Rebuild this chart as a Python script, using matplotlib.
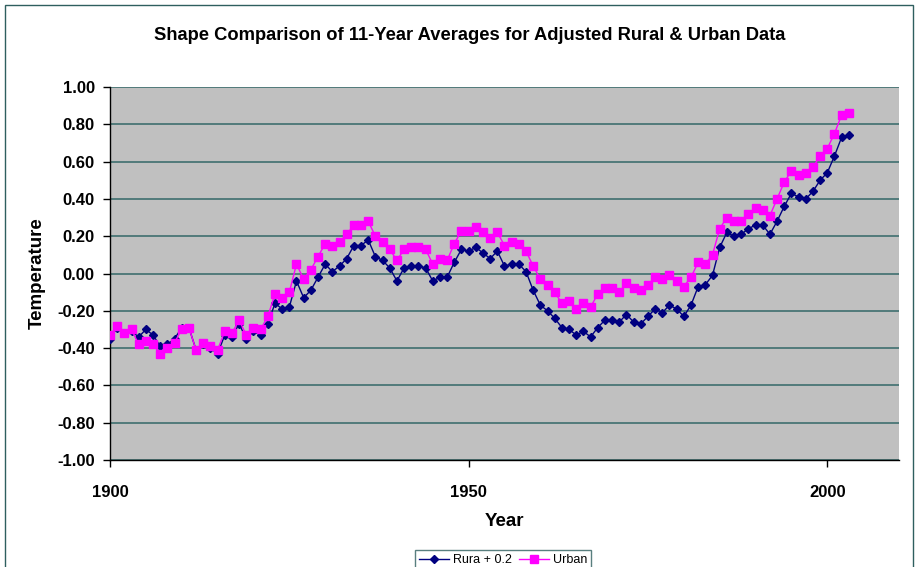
import numpy as np
import matplotlib
matplotlib.use("Agg")
import matplotlib.pyplot as plt
from matplotlib.patches import Rectangle

plt.rcParams['font.family'] = ['Liberation Sans', 'DejaVu Sans']

# 11-year averages, 1900-2003
years = list(range(1900, 2004))

rural_plus = [
    -0.35, -0.29, -0.32, -0.31, -0.34, -0.30, -0.33, -0.39, -0.38, -0.35,
    -0.29, -0.29, -0.41, -0.38, -0.40, -0.43, -0.33, -0.34, -0.27, -0.35,
    -0.31, -0.33, -0.27, -0.16, -0.19, -0.18, -0.04, -0.13, -0.09, -0.02,
    0.05, 0.01, 0.04, 0.08, 0.15, 0.15, 0.18, 0.09, 0.07, 0.03,
    -0.04, 0.03, 0.04, 0.04, 0.03, -0.04, -0.02, -0.02, 0.06, 0.13,
    0.12, 0.14, 0.11, 0.08, 0.12, 0.04, 0.05, 0.05, 0.01, -0.09,
    -0.17, -0.20, -0.24, -0.29, -0.30, -0.33, -0.31, -0.34, -0.29, -0.25,
    -0.25, -0.26, -0.22, -0.26, -0.27, -0.23, -0.19, -0.21, -0.17, -0.19,
    -0.23, -0.17, -0.07, -0.06, -0.01, 0.14, 0.22, 0.20, 0.21, 0.24,
    0.26, 0.26, 0.21, 0.28, 0.36, 0.43, 0.41, 0.40, 0.44, 0.50,
    0.54, 0.63, 0.73, 0.74,
]

urban = [
    -0.33, -0.28, -0.32, -0.30, -0.38, -0.36, -0.38, -0.43, -0.40, -0.37,
    -0.30, -0.29, -0.41, -0.37, -0.39, -0.41, -0.31, -0.32, -0.25, -0.33,
    -0.29, -0.30, -0.23, -0.11, -0.13, -0.10, 0.05, -0.03, 0.02, 0.09,
    0.16, 0.15, 0.17, 0.21, 0.26, 0.26, 0.28, 0.20, 0.17, 0.13,
    0.07, 0.13, 0.14, 0.14, 0.13, 0.05, 0.08, 0.07, 0.16, 0.23,
    0.23, 0.25, 0.22, 0.19, 0.22, 0.15, 0.17, 0.16, 0.12, 0.04,
    -0.03, -0.06, -0.10, -0.16, -0.15, -0.19, -0.16, -0.18, -0.11, -0.08,
    -0.08, -0.10, -0.05, -0.08, -0.09, -0.06, -0.02, -0.03, -0.01, -0.04,
    -0.07, -0.02, 0.06, 0.05, 0.10, 0.24, 0.30, 0.28, 0.28, 0.32,
    0.35, 0.34, 0.31, 0.40, 0.49, 0.55, 0.53, 0.54, 0.57, 0.63,
    0.67, 0.75, 0.85, 0.86,
]

x_ticks = [1900, 1950, 2000]
y_ticks = np.round(np.arange(-1.0, 1.01, 0.2), 2)

fig = plt.figure(figsize=(9.18, 5.67), dpi=100)
fig.patch.set_facecolor('white')

# chart area border
fig.patches.append(Rectangle((5 / 918, -0.05), 908 / 918, 1 - 5 / 567 + 0.05,
                             transform=fig.transFigure, fill=False,
                             edgecolor='#2f5f5f', linewidth=1.0))

ax = fig.add_axes([110 / 918, 1 - 460 / 567, 789 / 918, 373 / 567])
ax.set_facecolor('#C0C0C0')

ax.plot(years, rural_plus, color='#000080', marker='D', markersize=4.4,
        linewidth=1.0, label='Rura + 0.2', zorder=3)
ax.plot(years, urban, color='#FF00FF', marker='s', markersize=5.2,
        linewidth=1.0, label='Urban', zorder=3)

ax.set_xlim(1900, 2010)
ax.set_ylim(-1.0, 1.0)
ax.set_xticks(x_ticks)
ax.set_yticks(y_ticks)
ax.set_yticklabels([f'{v:.2f}' if abs(v) > 1e-9 else '0.00' for v in y_ticks])
for lbl in ax.get_xticklabels() + ax.get_yticklabels():
    lbl.set_fontweight('bold')
    lbl.set_fontsize(12)

ax.yaxis.grid(True, color='#3f6f6f', linewidth=1.2)
ax.set_axisbelow(True)
ax.tick_params(axis='y', direction='out', length=5, width=1, pad=6)
ax.tick_params(axis='x', direction='out', length=5, width=1, pad=13)

for side in ['left', 'bottom']:
    ax.spines[side].set_color('black')
    ax.spines[side].set_linewidth(1.0)
for side in ['top', 'right']:
    ax.spines[side].set_visible(False)

ax.set_xlabel('Year', fontsize=13.5, fontweight='bold', labelpad=9)
ax.set_ylabel('Temperature', fontsize=13.5, fontweight='bold', labelpad=8)

fig.text(470 / 918, 1 - 35 / 567,
         'Shape Comparison of 11-Year Averages for Adjusted Rural & Urban Data',
         ha='center', va='center', fontsize=13.2, fontweight='bold')

leg = fig.legend(loc='upper center', bbox_to_anchor=(503 / 918, 1 - 544 / 567),
                 ncol=2, fontsize=9, frameon=True, fancybox=False,
                 edgecolor='#2f5f5f', handlelength=2.4, handletextpad=0.3,
                 columnspacing=0.6, borderpad=0.3)
leg.get_frame().set_linewidth(1.0)

fig.savefig('out.png', dpi=100, facecolor='white')
